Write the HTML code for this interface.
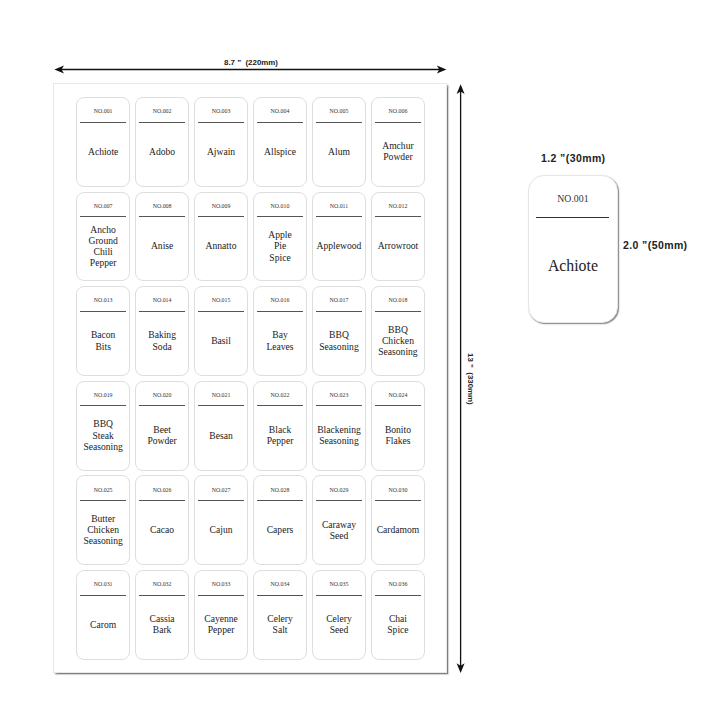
<!DOCTYPE html>
<html><head><meta charset="utf-8"><style>
html,body{margin:0;padding:0;background:#fff;}
body{width:720px;height:720px;position:relative;overflow:hidden;font-family:"Liberation Serif",serif;}
.sheet{position:absolute;left:53px;top:83px;width:394px;height:590px;background:#fff;border:1px solid #e8e8e8;box-sizing:border-box;box-shadow:1.5px 1.5px 1.5px rgba(0,0,0,0.5);}
.lb{position:absolute;width:54.3px;height:89.7px;box-sizing:border-box;border:1px solid #dedede;border-radius:8px;background:#fff;}
.no{position:absolute;left:-5px;right:-5px;top:10.1px;text-align:center;font-size:5.9px;line-height:6px;color:#333;}
.ln{position:absolute;left:3.4px;right:3.4px;top:23.5px;height:1px;background:#555;}
.nm{position:absolute;left:-5px;right:-5px;top:18.9px;bottom:0;display:flex;align-items:center;justify-content:center;text-align:center;font-size:9.6px;line-height:11.1px;color:#222;}
.dim{position:absolute;font-family:"Liberation Sans",sans-serif;font-weight:bold;color:#222;white-space:pre;}
.big{position:absolute;left:528px;top:175px;width:89.8px;height:147.9px;box-sizing:border-box;border:1px solid #e6e6e6;border-radius:16px;background:#fff;box-shadow:1px 1px 1.3px rgba(0,0,0,0.5);}
</style></head><body>
<div class="sheet"></div>
<div class="lb" style="left:76.00px;top:97.10px"><div class="no">NO.001</div><div class="ln"></div><div class="nm">Achiote</div></div>
<div class="lb" style="left:134.96px;top:97.10px"><div class="no">NO.002</div><div class="ln"></div><div class="nm">Adobo</div></div>
<div class="lb" style="left:193.92px;top:97.10px"><div class="no">NO.003</div><div class="ln"></div><div class="nm">Ajwain</div></div>
<div class="lb" style="left:252.88px;top:97.10px"><div class="no">NO.004</div><div class="ln"></div><div class="nm">Allspice</div></div>
<div class="lb" style="left:311.84px;top:97.10px"><div class="no">NO.005</div><div class="ln"></div><div class="nm">Alum</div></div>
<div class="lb" style="left:370.80px;top:97.10px"><div class="no">NO.006</div><div class="ln"></div><div class="nm">Amchur<br>Powder</div></div>
<div class="lb" style="left:76.00px;top:191.68px"><div class="no">NO.007</div><div class="ln"></div><div class="nm">Ancho<br>Ground<br>Chili<br>Pepper</div></div>
<div class="lb" style="left:134.96px;top:191.68px"><div class="no">NO.008</div><div class="ln"></div><div class="nm">Anise</div></div>
<div class="lb" style="left:193.92px;top:191.68px"><div class="no">NO.009</div><div class="ln"></div><div class="nm">Annatto</div></div>
<div class="lb" style="left:252.88px;top:191.68px"><div class="no">NO.010</div><div class="ln"></div><div class="nm">Apple<br>Pie<br>Spice</div></div>
<div class="lb" style="left:311.84px;top:191.68px"><div class="no">NO.011</div><div class="ln"></div><div class="nm">Applewood</div></div>
<div class="lb" style="left:370.80px;top:191.68px"><div class="no">NO.012</div><div class="ln"></div><div class="nm">Arrowroot</div></div>
<div class="lb" style="left:76.00px;top:286.26px"><div class="no">NO.013</div><div class="ln"></div><div class="nm">Bacon<br>Bits</div></div>
<div class="lb" style="left:134.96px;top:286.26px"><div class="no">NO.014</div><div class="ln"></div><div class="nm">Baking<br>Soda</div></div>
<div class="lb" style="left:193.92px;top:286.26px"><div class="no">NO.015</div><div class="ln"></div><div class="nm">Basil</div></div>
<div class="lb" style="left:252.88px;top:286.26px"><div class="no">NO.016</div><div class="ln"></div><div class="nm">Bay<br>Leaves</div></div>
<div class="lb" style="left:311.84px;top:286.26px"><div class="no">NO.017</div><div class="ln"></div><div class="nm">BBQ<br>Seasoning</div></div>
<div class="lb" style="left:370.80px;top:286.26px"><div class="no">NO.018</div><div class="ln"></div><div class="nm">BBQ<br>Chicken<br>Seasoning</div></div>
<div class="lb" style="left:76.00px;top:380.84px"><div class="no">NO.019</div><div class="ln"></div><div class="nm">BBQ<br>Steak<br>Seasoning</div></div>
<div class="lb" style="left:134.96px;top:380.84px"><div class="no">NO.020</div><div class="ln"></div><div class="nm">Beet<br>Powder</div></div>
<div class="lb" style="left:193.92px;top:380.84px"><div class="no">NO.021</div><div class="ln"></div><div class="nm">Besan</div></div>
<div class="lb" style="left:252.88px;top:380.84px"><div class="no">NO.022</div><div class="ln"></div><div class="nm">Black<br>Pepper</div></div>
<div class="lb" style="left:311.84px;top:380.84px"><div class="no">NO.023</div><div class="ln"></div><div class="nm">Blackening<br>Seasoning</div></div>
<div class="lb" style="left:370.80px;top:380.84px"><div class="no">NO.024</div><div class="ln"></div><div class="nm">Bonito<br>Flakes</div></div>
<div class="lb" style="left:76.00px;top:475.42px"><div class="no">NO.025</div><div class="ln"></div><div class="nm">Butter<br>Chicken<br>Seasoning</div></div>
<div class="lb" style="left:134.96px;top:475.42px"><div class="no">NO.026</div><div class="ln"></div><div class="nm">Cacao</div></div>
<div class="lb" style="left:193.92px;top:475.42px"><div class="no">NO.027</div><div class="ln"></div><div class="nm">Cajun</div></div>
<div class="lb" style="left:252.88px;top:475.42px"><div class="no">NO.028</div><div class="ln"></div><div class="nm">Capers</div></div>
<div class="lb" style="left:311.84px;top:475.42px"><div class="no">NO.029</div><div class="ln"></div><div class="nm">Caraway<br>Seed</div></div>
<div class="lb" style="left:370.80px;top:475.42px"><div class="no">NO.030</div><div class="ln"></div><div class="nm">Cardamom</div></div>
<div class="lb" style="left:76.00px;top:570.00px"><div class="no">NO.031</div><div class="ln"></div><div class="nm">Carom</div></div>
<div class="lb" style="left:134.96px;top:570.00px"><div class="no">NO.032</div><div class="ln"></div><div class="nm">Cassia<br>Bark</div></div>
<div class="lb" style="left:193.92px;top:570.00px"><div class="no">NO.033</div><div class="ln"></div><div class="nm">Cayenne<br>Pepper</div></div>
<div class="lb" style="left:252.88px;top:570.00px"><div class="no">NO.034</div><div class="ln"></div><div class="nm">Celery<br>Salt</div></div>
<div class="lb" style="left:311.84px;top:570.00px"><div class="no">NO.035</div><div class="ln"></div><div class="nm">Celery<br>Seed</div></div>
<div class="lb" style="left:370.80px;top:570.00px"><div class="no">NO.036</div><div class="ln"></div><div class="nm">Chai<br>Spice</div></div>

<svg style="position:absolute;left:0;top:0" width="720" height="720">
 <line x1="60" y1="69.5" x2="440" y2="69.5" stroke="#111" stroke-width="1.3"/>
 <path d="M54.4 69.5 L64 65.6 L61.5 69.5 L64 73.4 Z" fill="#111"/>
 <path d="M446.4 69.5 L436.8 65.6 L439.3 69.5 L436.8 73.4 Z" fill="#111"/>
 <line x1="460.6" y1="90" x2="460.6" y2="667" stroke="#111" stroke-width="1.3"/>
 <path d="M460.6 84.3 L456.6 94 L460.6 91.5 L464.6 94 Z" fill="#111"/>
 <path d="M460.6 672.9 L456.6 663.2 L460.6 665.7 L464.6 663.2 Z" fill="#111"/>
</svg>
<div class="dim" style="left:224px;top:58px;font-size:7.9px;line-height:10px;">8.7 &#8221;  (220mm)</div>
<div class="dim" style="left:475px;top:353px;font-size:7.9px;line-height:10px;transform-origin:0 0;transform:rotate(90deg);">13 &#8221;  (330mm)</div>
<div class="big">
 <div style="position:absolute;left:0;right:0;top:17px;text-align:center;font-size:9.8px;line-height:12px;color:#333;">NO.001</div>
 <div style="position:absolute;left:7px;right:7.5px;top:40.5px;height:1.3px;background:#333;"></div>
 <div style="position:absolute;left:-5px;right:-5px;top:81px;text-align:center;font-size:15.8px;line-height:18px;color:#222;">Achiote</div>
</div>
<div class="dim" style="left:541px;top:152px;font-size:10.5px;line-height:12px;letter-spacing:0.4px;">1.2 &#8221;(30mm)</div>
<div class="dim" style="left:623px;top:239px;font-size:10.5px;line-height:12px;letter-spacing:0.4px;">2.0 &#8221;(50mm)</div>
</body></html>
